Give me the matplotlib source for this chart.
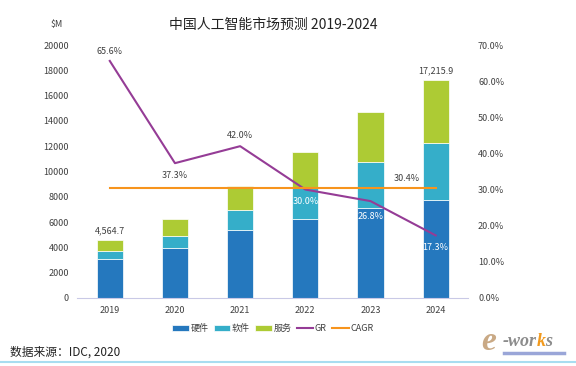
import matplotlib.pyplot as plt
import numpy as np

plt.rcParams['font.family'] = ['Noto Sans CJK SC', 'DejaVu Sans']

years = ['2019', '2020', '2021', '2022', '2023', '2024']
hardware = [3060, 3950, 5350, 6270, 7090, 7770]
software = [630, 950, 1610, 2430, 3660, 4510]
services = [875, 1370, 1890, 2840, 3950, 4936]
totals = [4564.7, None, None, None, None, 17215.9]
gr = [65.6, 37.3, 42.0, 30.0, 26.8, 17.3]
cagr = 30.4

c_hw = '#2578BE'
c_sw = '#35AEC9'
c_sv = '#ADCB34'
c_gr = '#953C96'
c_cagr = '#F7941D'
txt = '#404040'

fig = plt.figure(figsize=(5.76, 3.66), dpi=100)
ax = fig.add_axes([0.134, 0.186, 0.679, 0.691])
ax2 = ax.twinx()

x = np.arange(len(years))
w = 0.4
hw = np.array(hardware)
sw = np.array(software)
sv = np.array(services)
ax.bar(x, hw, w, color=c_hw, edgecolor='white', linewidth=0.5, label='硬件')
ax.bar(x, sw, w, bottom=hw, color=c_sw, edgecolor='white', linewidth=0.5, label='软件')
ax.bar(x, sv, w, bottom=hw + sw, color=c_sv, edgecolor='white', linewidth=0.5, label='服务')

for i, t in enumerate(totals):
    if t is not None:
        ax.text(x[i], t + 350, f'{t:,.1f}', ha='center', va='bottom', fontsize=6.5, color=txt)

ax.set_ylim(0, 20000)
ax.set_yticks(np.arange(0, 20001, 2000))
ax.set_xlim(-0.5, 5.5)
ax.set_xticks(x)
ax.set_xticklabels(years)

ax2.plot(x, gr, color=c_gr, linewidth=1.5, label='GR')
ax2.plot(x, [cagr] * len(x), color=c_cagr, linewidth=1.5, label='CAGR')
ax2.set_ylim(0, 70)
ax2.set_yticks(np.arange(0, 71, 10))
ax2.set_yticklabels([f'{v:.1f}%' for v in np.arange(0, 71, 10)])

# GR labels: (offset in %, colour)
offs = [(1.4, txt), (-2.2, txt), (1.6, txt),
        (-2.2, 'white'), (-3.0, 'white'), (-2.0, 'white')]
for i, v in enumerate(gr):
    d, col = offs[i]
    ax2.text(x[i], v + d, f'{v:.1f}%', ha='center',
             va='bottom' if d > 0 else 'top', fontsize=6.5, color=col)
ax2.text(4.56, cagr + 1.5, f'{cagr:.1f}%', ha='center', va='bottom', fontsize=6.5, color=txt)

for a in (ax, ax2):
    for s in a.spines.values():
        s.set_visible(False)
    a.tick_params(length=0, labelsize=6.5, colors=txt)
ax.spines['bottom'].set_visible(True)
ax.spines['bottom'].set_color('#C9C9E6')
ax.tick_params(axis='y', pad=6)
ax.tick_params(axis='x', pad=6)
ax2.tick_params(axis='y', pad=7)

fig.text(0.474, 0.933, '中国人工智能市场预测 2019-2024', ha='center', va='center',
         fontsize=10, color='#222222')
fig.text(0.099, 0.934, '$M', ha='center', va='center', fontsize=6.5, color=txt)

h1, l1 = ax.get_legend_handles_labels()
h2, l2 = ax2.get_legend_handles_labels()
fig.legend(h1 + h2, l1 + l2, loc='center', bbox_to_anchor=(0.474, 0.102), ncol=5,
           frameon=False, fontsize=6.5, handlelength=1.8, handleheight=0.5,
           handletextpad=0.2, columnspacing=0.6, labelcolor=txt)

fig.text(0.017, 0.038, '数据来源：IDC, 2020', ha='left', va='center', fontsize=8.5, color='#222222')

# e-works logo, pieces placed one after another
logo = dict(fontstyle='italic', fontweight='bold', family='Liberation Serif')
fig.text(0.835, 0.045, 'e', ha='left', va='baseline', fontsize=24,
         color='#C9A985', **logo)
r = fig.canvas.get_renderer()
xpos = 0.872
for part, col in [('-wor', '#8C8C8C'), ('k', '#F29A1E'), ('s', '#8C8C8C')]:
    t = fig.text(xpos, 0.055, part, ha='left', va='baseline', fontsize=13, color=col, **logo)
    bb = t.get_window_extent(renderer=r)
    xpos += bb.width / fig.bbox.width
fig.add_artist(plt.Line2D([0.875, 0.98], [0.035, 0.035], color='#9AA6D8', linewidth=2.5,
                          transform=fig.transFigure))
fig.add_artist(plt.Line2D([0, 1], [0.012, 0.012], color='#A8DDF0', linewidth=1.5,
                          transform=fig.transFigure))

fig.savefig('out.png', dpi=100)
